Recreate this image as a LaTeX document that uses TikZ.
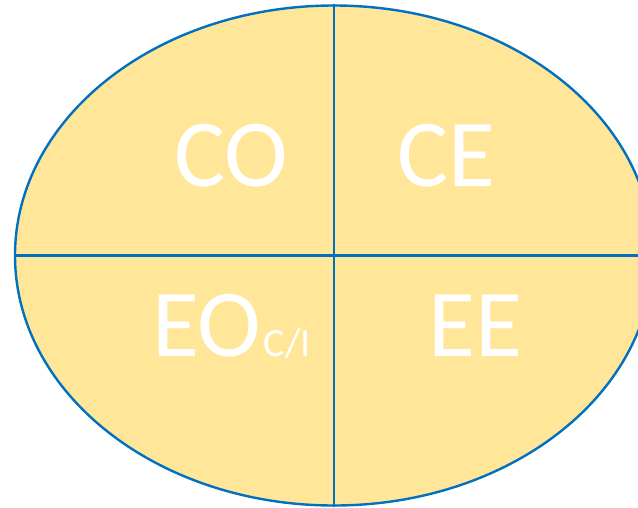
\documentclass[tikz,border=0pt]{standalone}
\usepackage{fontspec}
\setmainfont{Carlito}
\usetikzlibrary{shapes.geometric}
\definecolor{fillyel}{HTML}{FFE699}
\definecolor{lineblue}{HTML}{0070C0}
\tikzset{
  big/.style={text=white, font=\fontsize{72}{72}\selectfont, inner sep=0pt, anchor=base west},
  divline/.style={draw=lineblue, line width=1.8pt}
}
\begin{document}
\begin{tikzpicture}[x=0.75pt,y=-0.75pt]
\useasboundingbox (0,0) rectangle (638,507);
\clip (0,0) rectangle (638,507);
\node[ellipse, draw=lineblue, fill=fillyel, line width=1.8pt, inner sep=0pt,
      minimum width=478.5pt, minimum height=375pt] (e) at (334,255.5) {};
\draw[divline] (e.north) -- (e.south);
\draw[divline] (e.west) -- (e.east);
\node[big] (co) at (174,186) {CO};
\node[big] (ce) at (397,186) {CE};
\node[big] (eo) at (152,356) {EO\hspace{2pt}{\fontsize{30}{30}\selectfont C/I}};
\node[big] (ee) at (428,356) {EE};
\end{tikzpicture}
\end{document}
